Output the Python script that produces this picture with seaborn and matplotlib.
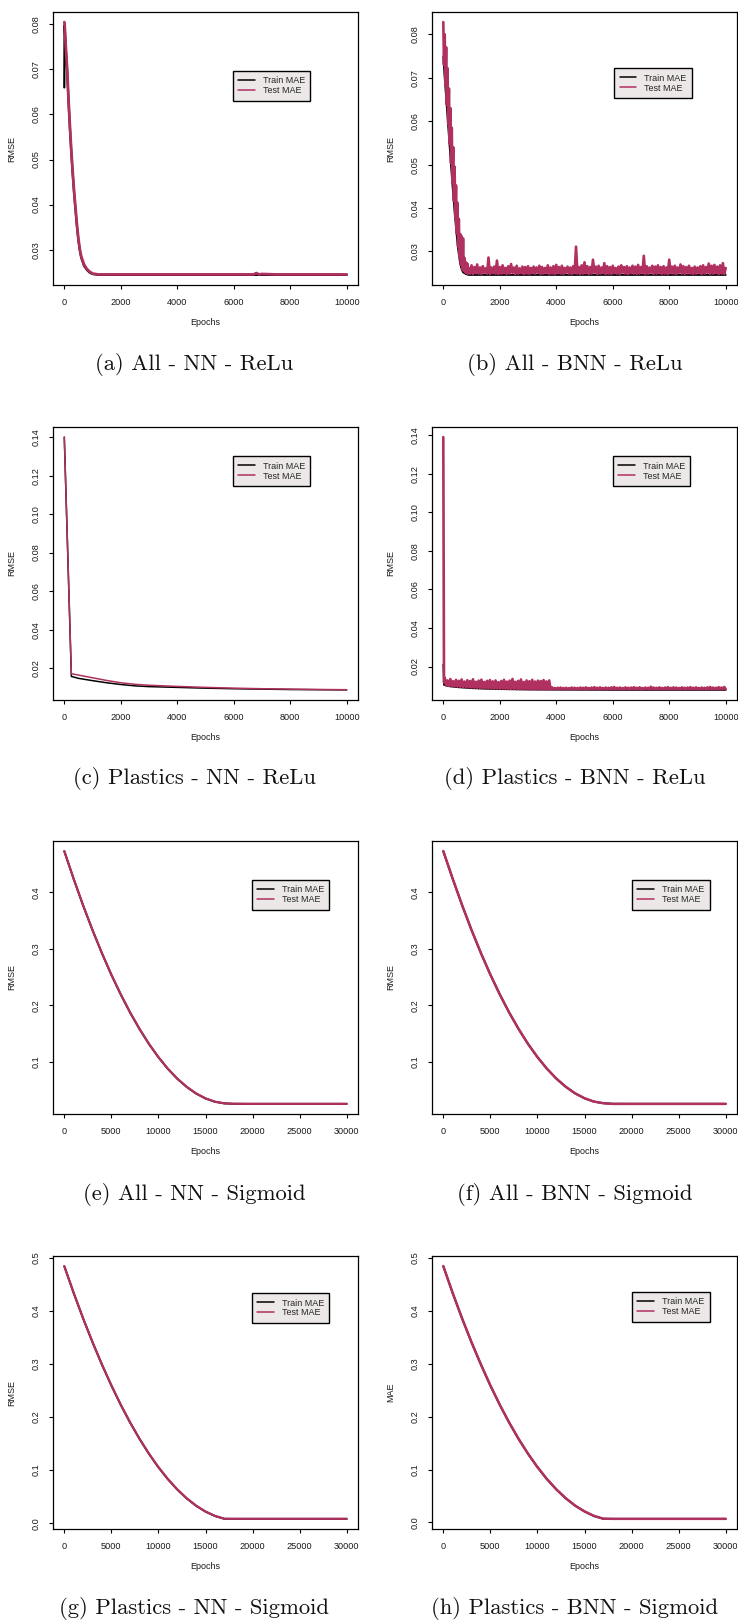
import matplotlib
matplotlib.use("Agg")
import matplotlib.pyplot as plt
import seaborn as sns

# ------------------------------------------------------------------ data
# (a) All - NN - ReLu
a_epochs = [0, 10, 50, 100, 150, 200, 250, 300, 350, 400, 450, 500, 550, 600, 700, 800, 900,
            1000, 1200, 1500, 2000, 3000, 4000, 5000, 6000, 6700, 6800, 6900, 7000, 7500, 8000, 9000, 10000]
a_train = [0.0660, 0.0798, 0.0750, 0.0698, 0.0628, 0.0568, 0.0513, 0.0466, 0.0423, 0.0386, 0.0350,
           0.0320, 0.0298, 0.0282, 0.0264, 0.0255, 0.0249, 0.0246, 0.0244, 0.0244, 0.0244, 0.0244,
           0.0244, 0.0244, 0.0244, 0.0244, 0.0244, 0.0244, 0.0244, 0.0244, 0.0244, 0.0244, 0.0244]
a_test = [0.0805, 0.0802, 0.0754, 0.0703, 0.0633, 0.0573, 0.0518, 0.0470, 0.0427, 0.0390, 0.0354,
          0.0324, 0.0301, 0.0285, 0.0267, 0.0257, 0.0251, 0.0247, 0.0245, 0.0245, 0.0245, 0.0245,
          0.0245, 0.0245, 0.0245, 0.0245, 0.0248, 0.0245, 0.0246, 0.0245, 0.0245, 0.0245, 0.0245]

# (b) All - BNN - ReLu
b_train_epochs = [0, 50, 100, 150, 200, 250, 300, 350, 400, 450, 500, 550, 600, 650, 700, 800, 900, 1000, 10000]
b_train = [0.0748, 0.0700, 0.0655, 0.0610, 0.0565, 0.0520, 0.0475, 0.0432, 0.0392, 0.0355, 0.0320,
           0.0293, 0.0272, 0.0259, 0.0252, 0.0248, 0.0246, 0.0246, 0.0246]
b_test_decay_epochs = list(range(0, 900, 25))
b_test_decay = [0.0828, 0.0730, 0.0800, 0.0683, 0.0770, 0.0638, 0.0722, 0.0593, 0.0675, 0.0548,
                0.0630, 0.0503, 0.0585, 0.0458, 0.0540, 0.0417, 0.0495, 0.0378, 0.0452, 0.0342,
                0.0412, 0.0311, 0.0375, 0.0287, 0.0340, 0.0269, 0.0335, 0.0259, 0.0330, 0.0255,
                0.0285, 0.0252, 0.0275, 0.0250, 0.0272, 0.0249]
b_test_hi_epochs = list(range(900, 10001, 100))
b_test_hi = [0.0262, 0.0268,
             0.0264, 0.0270, 0.0263, 0.0266, 0.0261, 0.0286, 0.0263, 0.0265, 0.0279, 0.0264,
             0.0268, 0.0262, 0.0266, 0.0271, 0.0263, 0.0267, 0.0261, 0.0265, 0.0264, 0.0266,
             0.0262, 0.0265, 0.0263, 0.0267, 0.0264, 0.0262, 0.0268, 0.0263, 0.0266, 0.0269,
             0.0264, 0.0267, 0.0262, 0.0265, 0.0263, 0.0266, 0.0311, 0.0264, 0.0268, 0.0275,
             0.0266, 0.0264, 0.0281, 0.0265, 0.0267, 0.0263, 0.0273, 0.0266, 0.0264, 0.0267,
             0.0262, 0.0265, 0.0268, 0.0264, 0.0266, 0.0263, 0.0267, 0.0265, 0.0269, 0.0264,
             0.0290, 0.0266, 0.0263, 0.0267, 0.0265, 0.0268, 0.0264, 0.0266, 0.0263, 0.0281,
             0.0265, 0.0267, 0.0263, 0.0270, 0.0266, 0.0264, 0.0267, 0.0262, 0.0265, 0.0263,
             0.0266, 0.0268, 0.0264, 0.0272, 0.0267, 0.0269, 0.0265, 0.0268, 0.0273, 0.0262]
b_test_lo_epochs = list(range(950, 10000, 100))
b_test_lo = [0.0249, 0.0248, 0.0250, 0.0249, 0.0248, 0.0251, 0.0249, 0.0248, 0.0250, 0.0249,
             0.0248, 0.0249, 0.0250, 0.0248, 0.0249, 0.0251, 0.0248, 0.0249, 0.0250, 0.0248,
             0.0249, 0.0248, 0.0250, 0.0249, 0.0251, 0.0248, 0.0249, 0.0250, 0.0248, 0.0249,
             0.0248, 0.0250, 0.0249, 0.0248, 0.0251, 0.0249, 0.0248, 0.0250, 0.0249, 0.0248,
             0.0249, 0.0250, 0.0248, 0.0249, 0.0251, 0.0248, 0.0249, 0.0250, 0.0248, 0.0249,
             0.0248, 0.0250, 0.0249, 0.0248, 0.0251, 0.0249, 0.0248, 0.0250, 0.0249, 0.0248,
             0.0249, 0.0250, 0.0248, 0.0249, 0.0251, 0.0248, 0.0249, 0.0250, 0.0248, 0.0249,
             0.0248, 0.0250, 0.0249, 0.0248, 0.0251, 0.0249, 0.0248, 0.0250, 0.0249, 0.0248,
             0.0249, 0.0250, 0.0248, 0.0249, 0.0251, 0.0248, 0.0249, 0.0250, 0.0248, 0.0249,
             0.0248]

# (c) Plastics - NN - ReLu
c_epochs = [0, 250, 500, 1000, 1500, 2000, 2500, 3000, 4000, 5000, 6000, 7000, 8000, 9000, 10000]
c_train = [0.1400, 0.0157, 0.0147, 0.0135, 0.0124, 0.0115, 0.0108, 0.0104, 0.0100, 0.0096,
           0.0093, 0.0091, 0.0089, 0.0088, 0.0087]
c_test = [0.1400, 0.0171, 0.0164, 0.0150, 0.0136, 0.0124, 0.0116, 0.0111, 0.0105, 0.0100,
          0.0096, 0.0093, 0.0091, 0.0089, 0.0088]

# (d) Plastics - BNN - ReLu
d_train_epochs = [0, 25, 200, 500, 1000, 1500, 2000, 3000, 4000, 6000, 8000, 10000]
d_train = [0.0210, 0.0105, 0.0098, 0.0093, 0.0088, 0.0085, 0.0083, 0.0081, 0.0080, 0.0079, 0.0079, 0.0079]
d_test_start_epochs = [0, 25]
d_test_start = [0.1390, 0.0118]
d_test_hi1_epochs = list(range(50, 3800, 100))
d_test_hi1 = [0.0142, 0.0128, 0.0135, 0.0124, 0.0131, 0.0126, 0.0133, 0.0122, 0.0129, 0.0125,
              0.0134, 0.0121, 0.0127, 0.0132, 0.0120, 0.0126, 0.0130, 0.0123, 0.0128, 0.0119,
              0.0125, 0.0131, 0.0122, 0.0127, 0.0136, 0.0121, 0.0126, 0.0133, 0.0120, 0.0128,
              0.0124, 0.0131, 0.0122, 0.0127, 0.0125, 0.0130, 0.0123, 0.0128]
d_test_lo1_epochs = list(range(100, 3801, 100))
d_test_lo1 = [0.0102, 0.0100, 0.0099, 0.0097, 0.0096, 0.0095, 0.0094, 0.0093, 0.0092, 0.0091,
              0.0090, 0.0090, 0.0089, 0.0088, 0.0088, 0.0087, 0.0087, 0.0086, 0.0086, 0.0085,
              0.0085, 0.0085, 0.0084, 0.0084, 0.0084, 0.0083, 0.0083, 0.0083, 0.0083, 0.0082,
              0.0082, 0.0082, 0.0082, 0.0082, 0.0081, 0.0081, 0.0081, 0.0081]
d_test_hi2_epochs = list(range(3850, 10000, 100))
d_test_hi2 = [0.0092, 0.0089, 0.0090, 0.0091, 0.0089, 0.0090, 0.0088, 0.0091, 0.0090, 0.0089,
              0.0091, 0.0090, 0.0092, 0.0089, 0.0091, 0.0093, 0.0090, 0.0092, 0.0089, 0.0091,
              0.0090, 0.0092, 0.0094, 0.0090, 0.0091, 0.0089, 0.0092, 0.0090, 0.0091, 0.0093,
              0.0090, 0.0092, 0.0089, 0.0091, 0.0090, 0.0095, 0.0091, 0.0090, 0.0092, 0.0089,
              0.0091, 0.0093, 0.0090, 0.0092, 0.0091, 0.0089, 0.0092, 0.0090, 0.0091, 0.0093,
              0.0090, 0.0092, 0.0089, 0.0091, 0.0090, 0.0092, 0.0094, 0.0091, 0.0090, 0.0093,
              0.0091, 0.0094]
d_test_lo2_epochs = list(range(3900, 10001, 100))
d_test_lo2 = [0.0083, 0.0082, 0.0083, 0.0082, 0.0082, 0.0083, 0.0082, 0.0083, 0.0082, 0.0082,
              0.0083, 0.0082, 0.0082, 0.0083, 0.0082, 0.0083, 0.0082, 0.0082, 0.0083, 0.0082,
              0.0082, 0.0083, 0.0082, 0.0083, 0.0082, 0.0082, 0.0083, 0.0082, 0.0083, 0.0082,
              0.0083, 0.0082, 0.0082, 0.0083, 0.0082, 0.0083, 0.0082, 0.0082, 0.0083, 0.0082,
              0.0082, 0.0083, 0.0082, 0.0083, 0.0082, 0.0082, 0.0083, 0.0082, 0.0083, 0.0082,
              0.0083, 0.0082, 0.0082, 0.0083, 0.0082, 0.0083, 0.0082, 0.0082, 0.0083, 0.0082,
              0.0083, 0.0082]

# (e)-(h) Sigmoid runs, 30000 epochs
sig_epochs = [0, 1000, 2000, 3000, 4000, 5000, 6000, 7000, 8000, 9000, 10000, 11000, 12000,
              13000, 14000, 15000, 16000, 17000, 18000, 20000, 25000, 30000]
e_train = [0.4724, 0.4232, 0.3765, 0.3328, 0.2920, 0.2541, 0.2192, 0.1871, 0.1580, 0.1317, 0.1084,
           0.0880, 0.0705, 0.0560, 0.0443, 0.0356, 0.0298, 0.0269, 0.0262, 0.0261, 0.0261, 0.0261]
e_test = [0.4726, 0.4235, 0.3768, 0.3331, 0.2923, 0.2544, 0.2195, 0.1874, 0.1583, 0.1320, 0.1087,
          0.0883, 0.0708, 0.0563, 0.0446, 0.0359, 0.0300, 0.0271, 0.0264, 0.0262, 0.0262, 0.0262]
f_train = [0.4726, 0.4237, 0.3770, 0.3332, 0.2923, 0.2544, 0.2194, 0.1873, 0.1582, 0.1319, 0.1086,
           0.0882, 0.0707, 0.0562, 0.0445, 0.0358, 0.0300, 0.0272, 0.0262, 0.0261, 0.0261, 0.0261]
f_test = [0.4728, 0.4240, 0.3772, 0.3334, 0.2925, 0.2546, 0.2196, 0.1875, 0.1584, 0.1321, 0.1088,
          0.0884, 0.0709, 0.0564, 0.0447, 0.0360, 0.0301, 0.0272, 0.0260, 0.0260, 0.0260, 0.0260]
g_train = [0.4842, 0.4335, 0.3857, 0.3408, 0.2987, 0.2594, 0.2229, 0.1893, 0.1585, 0.1305, 0.1053,
           0.0829, 0.0634, 0.0467, 0.0328, 0.0217, 0.0135, 0.0082, 0.0081, 0.0081, 0.0081, 0.0081]
g_test = [0.4844, 0.4338, 0.3860, 0.3411, 0.2990, 0.2597, 0.2232, 0.1896, 0.1588, 0.1308, 0.1056,
          0.0832, 0.0637, 0.0470, 0.0331, 0.0220, 0.0138, 0.0084, 0.0083, 0.0083, 0.0083, 0.0083]
h_train = [0.4842, 0.4332, 0.3852, 0.3402, 0.2982, 0.2587, 0.2222, 0.1885, 0.1577, 0.1297, 0.1045,
           0.0820, 0.0625, 0.0457, 0.0317, 0.0207, 0.0122, 0.0070, 0.0068, 0.0068, 0.0068, 0.0068]
h_test = [0.4844, 0.4335, 0.3855, 0.3405, 0.2985, 0.2590, 0.2225, 0.1888, 0.1580, 0.1300, 0.1048,
          0.0823, 0.0628, 0.0460, 0.0320, 0.0210, 0.0125, 0.0072, 0.0069, 0.0069, 0.0069, 0.0069]

# ticks
relu_xticks = [0, 2000, 4000, 6000, 8000, 10000]
relu_xticklabels = ["0", "2000", "4000", "6000", "8000", "10000"]
sig_xticks = [0, 5000, 10000, 15000, 20000, 25000, 30000]
sig_xticklabels = ["0", "5000", "10000", "15000", "20000", "25000", "30000"]
ab_yticks = [0.03, 0.04, 0.05, 0.06, 0.07, 0.08]
ab_yticklabels = ["0.03", "0.04", "0.05", "0.06", "0.07", "0.08"]
cd_yticks = [0.02, 0.04, 0.06, 0.08, 0.10, 0.12, 0.14]
cd_yticklabels = ["0.02", "0.04", "0.06", "0.08", "0.10", "0.12", "0.14"]
ef_yticks = [0.1, 0.2, 0.3, 0.4]
ef_yticklabels = ["0.1", "0.2", "0.3", "0.4"]
gh_yticks = [0.0, 0.1, 0.2, 0.3, 0.4, 0.5]
gh_yticklabels = ["0.0", "0.1", "0.2", "0.3", "0.4", "0.5"]

captions = ["(a) All - NN - ReLu", "(b) All - BNN - ReLu",
            "(c) Plastics - NN - ReLu", "(d) Plastics - BNN - ReLu",
            "(e) All - NN - Sigmoid", "(f) All - BNN - Sigmoid",
            "(g) Plastics - NN - Sigmoid", "(h) Plastics - BNN - Sigmoid"]
series_names = ["Train MAE", "Test MAE"]


def interleave(ex1, v1, ex2, v2):
    xs, ys = [], []
    for i in range(len(ex1)):
        xs.append(ex1[i]); ys.append(v1[i])
        if i < len(ex2):
            xs.append(ex2[i]); ys.append(v2[i])
    return xs, ys


bx, by = interleave(b_test_hi_epochs, b_test_hi, b_test_lo_epochs, b_test_lo)
b_test_epochs = b_test_decay_epochs + bx
b_test = b_test_decay + by
dx1, dy1 = interleave(d_test_hi1_epochs, d_test_hi1, d_test_lo1_epochs, d_test_lo1)
dx2, dy2 = interleave(d_test_hi2_epochs, d_test_hi2, d_test_lo2_epochs, d_test_lo2)
d_test_epochs = d_test_start_epochs + dx1 + dx2
d_test = d_test_start + dy1 + dy2

# ------------------------------------------------------------------ style
sns.set_style("ticks")
plt.rcParams['font.family'] = ['Liberation Sans', 'DejaVu Sans']

TRAIN_COLOR = "#000000"
TEST_COLOR = "#B03060"
LEGEND_BG = "#ECE8E7"
W, H = 738, 1622
fig = plt.figure(figsize=(W / 100, H / 100), dpi=100)

col_x = [53, 432]
row_top = [12, 427, 841, 1256]
AX_W, AX_H = 305, 273
cap_x = [194, 575]
cap_y = [365, 779, 1194, 1608]


def make_ax(col, row):
    return fig.add_axes([col_x[col] / W, 1 - (row_top[row] + AX_H) / H, AX_W / W, AX_H / H])


def draw(ax, trx, tr, tex, te, xt, xtl, yt, ytl, ylabel, leg_xy, lw_tr, lw_te):
    sns.lineplot(x=trx, y=tr, ax=ax, color=TRAIN_COLOR, lw=lw_tr, estimator=None,
                 sort=False, label=series_names[0])
    sns.lineplot(x=tex, y=te, ax=ax, color=TEST_COLOR, lw=lw_te, estimator=None,
                 sort=False, label=series_names[1])
    ax.margins(x=0.04, y=0.04)
    ax.set_xticks(xt)
    ax.set_xticklabels(xtl)
    ax.set_yticks(yt)
    ax.set_yticklabels(ytl, rotation=90, va="center")
    ax.tick_params(axis="both", length=2.9, width=0.8, color="black",
                   labelsize=6.6, labelcolor="#1a1a1a", direction="out")
    ax.tick_params(axis="x", pad=6.2)
    ax.tick_params(axis="y", pad=6.0)
    ax.set_xlabel("Epochs", fontsize=6.5, labelpad=8, color="#1a1a1a")
    ax.set_ylabel(ylabel, fontsize=6.5, labelpad=11, color="#1a1a1a")
    for s in ax.spines.values():
        s.set_color("black")
        s.set_linewidth(0.9)
    leg = ax.legend(loc="upper left", bbox_to_anchor=leg_xy, borderaxespad=0,
                    fontsize=6.5, handlelength=1.8, handletextpad=0.9,
                    labelspacing=0.1, borderpad=0.6, fancybox=False,
                    framealpha=1, facecolor=LEGEND_BG, edgecolor="black")
    leg.get_frame().set_linewidth(1.0)
    for ln in leg.get_lines():
        ln.set_linewidth(1.1)


panels = [
    (0, 0, a_epochs, a_train, a_epochs, a_test, relu_xticks, relu_xticklabels, ab_yticks, ab_yticklabels, "RMSE", (0.590, 0.784), 1.6, 2.0),
    (1, 0, b_train_epochs, b_train, b_test_epochs, b_test, relu_xticks, relu_xticklabels, ab_yticks, ab_yticklabels, "RMSE", (0.597, 0.794), 1.4, 1.9),
    (0, 1, c_epochs, c_train, c_epochs, c_test, relu_xticks, relu_xticklabels, cd_yticks, cd_yticklabels, "RMSE", (0.590, 0.893), 1.1, 1.1),
    (1, 1, d_train_epochs, d_train, d_test_epochs, d_test, relu_xticks, relu_xticklabels, cd_yticks, cd_yticklabels, "RMSE", (0.593, 0.893), 1.3, 1.9),
    (0, 2, sig_epochs, e_train, sig_epochs, e_test, sig_xticks, sig_xticklabels, ef_yticks, ef_yticklabels, "RMSE", (0.652, 0.857), 1.4, 1.6),
    (1, 2, sig_epochs, f_train, sig_epochs, f_test, sig_xticks, sig_xticklabels, ef_yticks, ef_yticklabels, "RMSE", (0.656, 0.857), 1.4, 1.8),
    (0, 3, sig_epochs, g_train, sig_epochs, g_test, sig_xticks, sig_xticklabels, gh_yticks, gh_yticklabels, "RMSE", (0.652, 0.864), 1.4, 1.6),
    (1, 3, sig_epochs, h_train, sig_epochs, h_test, sig_xticks, sig_xticklabels, gh_yticks, gh_yticklabels, "MAE", (0.656, 0.868), 1.4, 1.8),
]

for i, p in enumerate(panels):
    col, row = p[0], p[1]
    ax = make_ax(col, row)
    draw(ax, *p[2:])
    fig.text(cap_x[col] / W, 1 - cap_y[row] / H, captions[i], ha="center", va="center",
             fontsize=16.3, family=["cmr10", "DejaVu Serif"], color="#111111")

fig.savefig("out.png", dpi=100)
